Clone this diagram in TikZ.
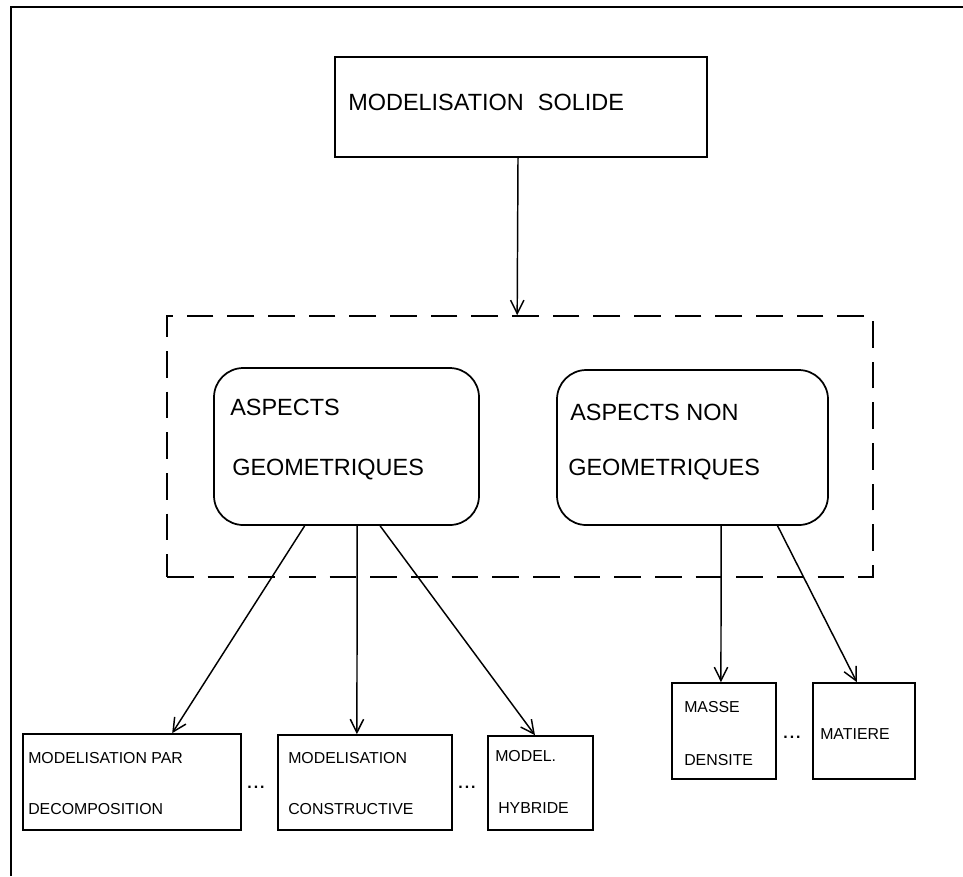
\documentclass[tikz,border=0pt]{standalone}
\usepackage{fontspec}
\setmainfont{Liberation Sans}
\usetikzlibrary{arrows.meta,fit,calc}
\begin{document}
\begin{tikzpicture}[x=0.75pt,y=-0.75pt,
  box/.style={draw, inner sep=0pt, line width=1.3pt},
  roundbox/.style={box, rounded corners=22pt},
  groupbox/.style={draw, inner sep=0pt, line width=1.3pt, dash pattern=on 20pt off 10.5pt},
  big/.style={font=\fontsize{17.6}{20}\selectfont, inner sep=0pt, anchor=base west},
  small/.style={font=\fontsize{11.9}{14}\selectfont, inner sep=0pt, anchor=base west},
  dots/.style={font=\bfseries\fontsize{11.9}{14}\selectfont, inner sep=0pt, anchor=base},
  link/.style={-{Straight Barb[length=10pt,width=10pt,line width=1.1pt]}, line width=1.1pt},
]
\useasboundingbox (0,0) rectangle (963,876);

% outer frame (top and left edges)
\coordinate (frameBL) at (11,876);
\coordinate (frameTL) at (11,7);
\coordinate (frameTR) at (963,7);
\draw[line width=1.4pt] (frameBL) -- (frameTL) -- (frameTR);

% root
\node[box, fit={(335,57)(707,157)}] (solid) {};
\node[big] (solidtxt) at (348,110) {MODELISATION\hspace{0.6em}SOLIDE};

% group of aspects
\node[groupbox, fit={(167,316)(873,577)}] (aspects) {};

\node[roundbox, fit={(214,368)(479,525)}] (geo) {};
\node[big] (geoA) at (230,415) {ASPECTS};
\node[big] (geoB) at (232,475) {GEOMETRIQUES};

\node[roundbox, fit={(557,370)(828,525)}] (ngeo) {};
\node[big] (ngeoA) at (570,420) {ASPECTS NON};
\node[big] (ngeoB) at (568,475) {GEOMETRIQUES};

% leaves of the geometric aspects
\node[box, fit={(23,734)(241,830)}] (dec) {};
\node[small] (decA) at (28,763) {MODELISATION PAR};
\node[small] (decB) at (28,814) {DECOMPOSITION};

\node[box, fit={(278,735)(452,830)}] (con) {};
\node[small] (conA) at (288,763) {MODELISATION};
\node[small] (conB) at (288,814) {CONSTRUCTIVE};

\node[box, fit={(488,736)(593,830)}] (hyb) {};
\node[small] (hybA) at (495,761) {MODEL.};
\node[small] (hybB) at (498,813) {HYBRIDE};

% leaves of the non geometric aspects
\node[box, fit={(672,683)(776,779)}] (mas) {};
\node[small] (masA) at (684,712) {MASSE};
\node[small] (masB) at (684,765) {DENSITE};

\node[box, fit={(813,683)(915,779)}] (mat) {};
\node[small] (matA) at (820,739) {MATIERE};

% ellipses between leaves
\node[dots] (dotsA) at (256,788) {.\kern1.5pt.\kern1.5pt.};
\node[dots] (dotsB) at (467,788) {.\kern1.5pt.\kern1.5pt.};
\node[dots] (dotsC) at (792,738) {.\kern1.5pt.\kern1.5pt.};

% connectors
\draw[link] ($(solid.south west)!0.492!(solid.south east)$) -- ($(aspects.north west)!0.496!(aspects.north east)$);

\draw[link] ($(geo.south west)!0.343!(geo.south east)$) -- ($(dec.north west)!0.683!(dec.north east)$);
\draw[link] ($(geo.south west)!0.540!(geo.south east)$) -- ($(con.north west)!0.454!(con.north east)$);
\draw[link] ($(geo.south west)!0.626!(geo.south east)$) -- ($(hyb.north west)!0.448!(hyb.north east)$);

\draw[link] ($(ngeo.south west)!0.605!(ngeo.south east)$) -- ($(mas.north west)!0.471!(mas.north east)$);
\draw[link] ($(ngeo.south west)!0.812!(ngeo.south east)$) -- ($(mat.north west)!0.431!(mat.north east)$);
\end{tikzpicture}
\end{document}
